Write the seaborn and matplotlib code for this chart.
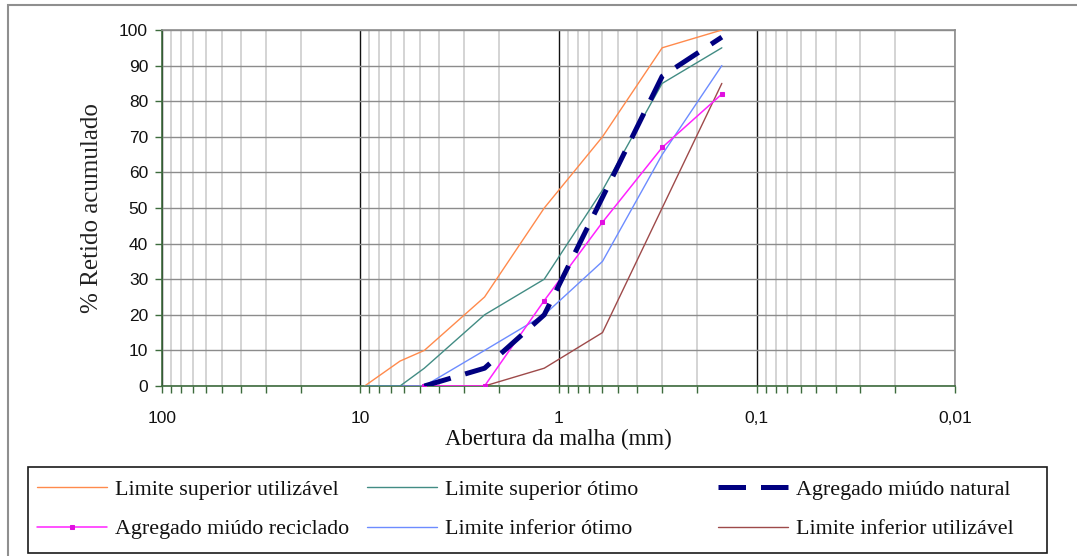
import numpy as np
import pandas as pd
import matplotlib
matplotlib.use("Agg")
import matplotlib.pyplot as plt
import seaborn as sns
from matplotlib.ticker import FixedLocator, FixedFormatter, NullFormatter
from matplotlib.patches import Rectangle

# ---------------- data ----------------
sieves = [9.5, 6.3, 4.75, 2.36, 1.18, 0.6, 0.3, 0.15]
lim_sup_util = [0, 7, 10, 25, 50, 70, 95, 100]
lim_sup_otimo = [0, 0, 5, 20, 30, 55, 85, 95]
lim_inf_otimo = [0, 0, 0, 10, 20, 35, 65, 90]
lim_inf_util = [0, 0, 0, 0, 5, 15, 50, 85]

sieves_agg = [4.75, 2.36, 1.18, 0.6, 0.3, 0.15]
agg_natural = [0, 5, 20, 53, 87, 98]
agg_reciclado = [0, 0, 24, 46, 67, 82]

xtick_vals = [100, 10, 1, 0.1, 0.01]
xtick_labels = ["100", "10", "1", "0,1", "0,01"]
yticks = list(range(0, 101, 10))

labels = ["Limite superior utilizável", "Limite superior ótimo",
          "Agregado miúdo natural", "Agregado miúdo reciclado",
          "Limite inferior ótimo", "Limite inferior utilizável"]

# ---------------- style ----------------
sns.set_style("white")
plt.rcParams["font.family"] = ["Liberation Sans", "DejaVu Sans"]

W, H = 1077, 556
fig = plt.figure(figsize=(W / 100, H / 100), dpi=100)
ax = fig.add_axes([162 / W, 1 - 386 / H, (955 - 162) / W, (386 - 30) / H])

green = "#3d6b3d"

series = [
    (sieves, lim_sup_util, dict(color="#ff8a4c", lw=1.0)),
    (sieves, lim_sup_otimo, dict(color="#428c84", lw=1.0)),
    (sieves_agg, agg_natural, dict(color="#000080", lw=3.6, linestyle=(0, (5.5, 3.0)))),
    (sieves_agg, agg_reciclado, dict(color="#ff22ff", lw=1.1, marker="s", markersize=3.5,
                                     markeredgecolor="#e010e0", markerfacecolor="#e010e0")),
    (sieves, lim_inf_otimo, dict(color="#6d8cff", lw=1.0)),
    (sieves, lim_inf_util, dict(color="#9e4a4a", lw=1.0)),
]

draw_order = [5, 4, 0, 1, 3, 2]
handles = [None] * 6
for i in draw_order:
    xs, ys, kw = series[i]
    df = pd.DataFrame({"x": xs, "y": ys})
    n_before = len(ax.lines)
    sns.lineplot(data=df, x="x", y="y", ax=ax, estimator=None, sort=False,
                 legend=False, zorder=3 + draw_order.index(i), **kw)
    handles[i] = ax.lines[n_before]

ax.set_xscale("log")
ax.set_xlim(100, 0.01)
ax.set_ylim(0, 100)

# ticks
ax.xaxis.set_major_locator(FixedLocator(xtick_vals))
ax.xaxis.set_major_formatter(FixedFormatter(xtick_labels))
minor = [m * 10.0 ** e for e in range(-2, 2) for m in range(2, 10)]
ax.xaxis.set_minor_locator(FixedLocator(minor))
ax.xaxis.set_minor_formatter(NullFormatter())
ax.set_yticks(yticks)

ax.tick_params(axis="x", which="both", direction="out", length=5, width=1,
               color=green, bottom=True, labelsize=12.5, pad=13, labelcolor="#111111")
ax.tick_params(axis="y", which="major", direction="out", length=5, width=1,
               color=green, left=True, labelsize=12.5, pad=5, labelcolor="#111111")

# grid
ax.set_axisbelow(True)
ax.grid(axis="y", which="major", color="#8c8c8c", lw=1.0)
ax.grid(axis="x", which="minor", color="#d4d4d4", lw=1.4)
ax.grid(axis="x", which="major", color="#111111", lw=1.0)

for s in ["left", "bottom"]:
    ax.spines[s].set_color(green)
    ax.spines[s].set_linewidth(1.2)
for s in ["top", "right"]:
    ax.spines[s].set_color("#8c8c8c")
    ax.spines[s].set_linewidth(1.2)

ax.set_xlabel("Abertura da malha (mm)", family=["Liberation Serif", "DejaVu Serif"],
              fontsize=16.5, color="#111111")
ax.xaxis.set_label_coords(0.5, -(439 - 386) / (386 - 30), transform=ax.transAxes)
ax.xaxis.label.set_va("center")
ax.set_ylabel("% Retido acumulado", family=["Liberation Serif", "DejaVu Serif"],
              fontsize=18, color="#222222")
ax.yaxis.set_label_coords(-(162 - 92) / (955 - 162), 0.5)
ax.yaxis.label.set_va("center")

# outer chart frame (left/top visible)
fig.patches.append(Rectangle((8 / W, -0.2), 1.2, 1.2 - 5 / H, transform=fig.transFigure,
                             fill=False, ec="#8f8f8f", lw=1.5))

# legend frame
fig.patches.append(Rectangle((28 / W, 1 - 553 / H), (1047 - 28) / W, (553 - 467) / H,
                             transform=fig.transFigure, fill=False, ec="#1a1a1a", lw=1.2))

leg_font = dict(family=["Liberation Serif", "DejaVu Serif"], size=15.8)
col_x = [37, 367, 718]
for c in range(3):
    hs = [handles[c], handles[c + 3]]
    ls = [labels[c], labels[c + 3]]
    lg = fig.legend(hs, ls, loc="center left",
                    bbox_to_anchor=(col_x[c] / W, 1 - 509.5 / H),
                    frameon=False, ncol=1, prop=leg_font, handlelength=3.2,
                    handletextpad=0.35, labelspacing=0.85, borderpad=0,
                    borderaxespad=0, numpoints=1)
    for t in lg.get_texts():
        t.set_color("#111111")

fig.savefig("out.png", dpi=100, facecolor="white")
